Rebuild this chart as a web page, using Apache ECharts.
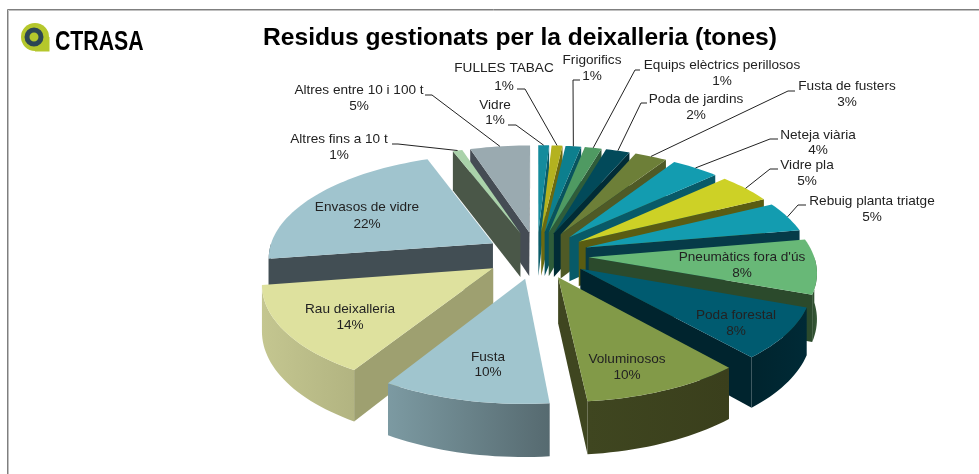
<!DOCTYPE html>
<html><head><meta charset="utf-8">
<style>html,body{margin:0;padding:0;background:#fff}#c{width:979px;height:474px}</style>
<script src="https://cdn.jsdelivr.net/npm/echarts@6/dist/echarts.min.js"></script>
</head><body><div id="c"></div>
<script>
const categories = ['Vidre','FULLES TABAC','Frigorifics','Equips elèctrics perillosos','Poda de jardins','Fusta de fusters','Neteja viària','Vidre pla','Rebuig planta triatge',"Pneumàtics fora d'ús",'Poda forestal','Voluminosos','Fusta','Rau deixalleria','Envasos de vidre','Altres fins a 10 t','Altres entre 10 i 100 t'];
const values = [0.9,0.9,1.3,1.4,2,2.7,4,4.6,4.7,8.55,8,10,10.45,14,22,0.8,5];
const topColors = ['#148b9c','#b4b21f','#0d7f8e','#4f9a62','#024a5a','#6d7f38','#139cb0','#cdd126','#139cb0','#68b877','#005b70','#829a48','#a0c5ce','#dee19e','#a0c4ce','#aad2aa','#9aaab0'];
const sideColors = ['#0a5c68','#6b6a10','#08535e','#2f5d3a','#012c36','#4f5a26','#085a68','#5a5c12','#063b48','#2b4a2c','#00242e','#3f4620','#5f7a82','#9ea070','#424e54','#4a5748','#454c54'];
const arcColors = [['#0a5c68','#0a5c68'],['#6b6a10','#6b6a10'],['#08535e','#08535e'],['#2f5d3a','#2f5d3a'],['#012c36','#012c36'],['#404b20','#404b20'],['#085a68','#085a68'],['#5a5c12','#5a5c12'],['#063b48','#063b48'],['#2b4a2c','#3a5c3a'],['#00242e','#002a36'],['#3f4620','#3a3f1c'],['#7c9aa2','#566a70'],['#c4c690','#b2b481'],['#424e54','#424e54'],['#4a5748','#4a5748'],['#454c54','#454c54']];
// label layout: [centre x, name y, pct y, leader start x, leader start y, elbow x]
const labelLayout = [
 [495,105,120,508,125,516],[504,68,86,517,89,525],[592,60,76,580,80,573],[722,65,81,640,70,635],
 [696,99,115,647,103,641],[847,86,102,795,91,788],[818,135,150,778,139,770],[807,165,181,778,169,770],
 [872,201,217,806,205,798],[742,257,273],[736,315,331],[627,359,375],[488,357,372],[350,309,325],
 [367,207,224],[339,139,155,392,144,398],[359,90,106,425,95,432]
];
const total = values.reduce((a,b)=>a+b,0);
const P = {cx:537,cy:255,A:225,B:103,H:45,k:0.125,e:0.23};
function proj(X,Y,z){const s=1/(1-P.k*Y);return [P.cx+P.A*X*s,P.cy+(P.B*Y+P.H*z)*s];}
function area(p){let a=0;for(let i=0;i<p.length;i++){const q=p[(i+1)%p.length];a+=p[i][0]*q[1]-q[0]*p[i][1];}return a/2;}
let acc=0;
const slices=values.map(v=>{const a0=acc/total*2*Math.PI;acc+=v;const a1=acc/total*2*Math.PI;return {a0,a1,mid:(a0+a1)/2};});
function renderItem(params,api){
  const i=params.dataIndex,sl=slices[i];
  const ox=P.e*Math.sin(sl.mid),oy=-P.e*Math.cos(sl.mid);
  const pt=(a,r,z)=>proj(ox+r*Math.sin(a),oy-r*Math.cos(a),z);
  const depth=-Math.cos(sl.mid);
  const z2=Math.round((depth+2)*100);
  const kids=[];
  const add=(pts,fill,o)=>kids.push({type:'polygon',z2:z2+o,shape:{points:pts},style:{fill:fill,stroke:null}});
  const faces=[[pt(sl.a0,0,0),pt(sl.a0,1,0),pt(sl.a0,1,1),pt(sl.a0,0,1)],[pt(sl.a1,1,0),pt(sl.a1,0,0),pt(sl.a1,0,1),pt(sl.a1,1,1)]];
  faces.forEach(f=>{ if(area(f)<0) add(f,sideColors[i],0); });
  const n=Math.max(4,Math.ceil((sl.a1-sl.a0)/0.03));
  let tops=[],bots=[];
  for(let j=0;j<=n;j++){const a=sl.a0+(sl.a1-sl.a0)*j/n;
    if(Math.cos(a)<0.02){tops.push(pt(a,1,0));bots.unshift(pt(a,1,1));}}
  if(tops.length>1){
    add(tops.concat(bots),{type:'linear',x:0,y:0,x2:1,y2:0,colorStops:[{offset:0,color:arcColors[i][0]},{offset:1,color:arcColors[i][1]}]},1);
  }
  const top=[pt(sl.a0,0,0)];
  for(let j=0;j<=n;j++){top.push(pt(sl.a0+(sl.a1-sl.a0)*j/n,1,0));}
  add(top,topColors[i],2);
  const L=labelLayout[i];
  const pct=Math.round(api.value(0)/total*100)+'%';
  const txt=(t,x,y)=>kids.push({type:'text',z2:1000,style:{text:t,x:x,y:y,align:'center',verticalAlign:'middle',font:'13.6px "Liberation Sans"',fill:'#222'}});
  txt(categories[i],L[0],L[1]);txt(pct,L[0],L[2]);
  if(L.length>3){
    const end=pt(sl.mid,1,0);
    kids.push({type:'polyline',z2:999,shape:{points:[[L[3],L[4]],[L[5],L[4]],end]},style:{stroke:'#222',lineWidth:1,fill:null}});
  }
  return {type:'group',children:kids};
}
const chart=echarts.init(document.getElementById('c'),null,{renderer:'canvas'});
chart.setOption({
  animation:false,backgroundColor:'#fff',
  title:{text:'Residus gestionats per la deixalleria (tones)',left:515,top:33,textAlign:'center',textVerticalAlign:'middle',textStyle:{fontFamily:'"Liberation Sans"',fontWeight:'bold',fontSize:24.6,color:'#000'}},
  graphic:[
    {type:'polyline',shape:{points:[[8.5,474],[8.5,10.5],[979,10.5]]},style:{stroke:'#c0c0c0',lineWidth:1,fill:null}},
    {type:'polyline',shape:{points:[[7.5,474],[7.5,9.5],[979,9.5]]},style:{stroke:'#7f7f7f',lineWidth:1,fill:null}},
    {type:'circle',shape:{cx:35,cy:37,r:14},style:{fill:'#b5c72c'}},
    {type:'rect',shape:{x:35,y:37,width:14.5,height:14.5},style:{fill:'#b5c72c'}},
    {type:'ring',shape:{cx:34,cy:37,r:9.5,r0:4.5},style:{fill:'#2d4654'}},
    {type:'text',x:55,y:42,scaleX:0.76,style:{text:'CTRASA',x:0,y:0,verticalAlign:'middle',fontFamily:'"Liberation Sans"',fontWeight:'bold',fontSize:28,fill:{type:'linear',x:0,y:0,x2:1,y2:0,colorStops:[{offset:0,color:'#24405a'},{offset:0.45,color:'#24506a'},{offset:1,color:'#17a0ae'}]}}}
  ],
  series:[{type:'custom',coordinateSystem:'none',renderItem:renderItem,data:values.map(v=>[v]),silent:true}]
});
</script></body></html>
